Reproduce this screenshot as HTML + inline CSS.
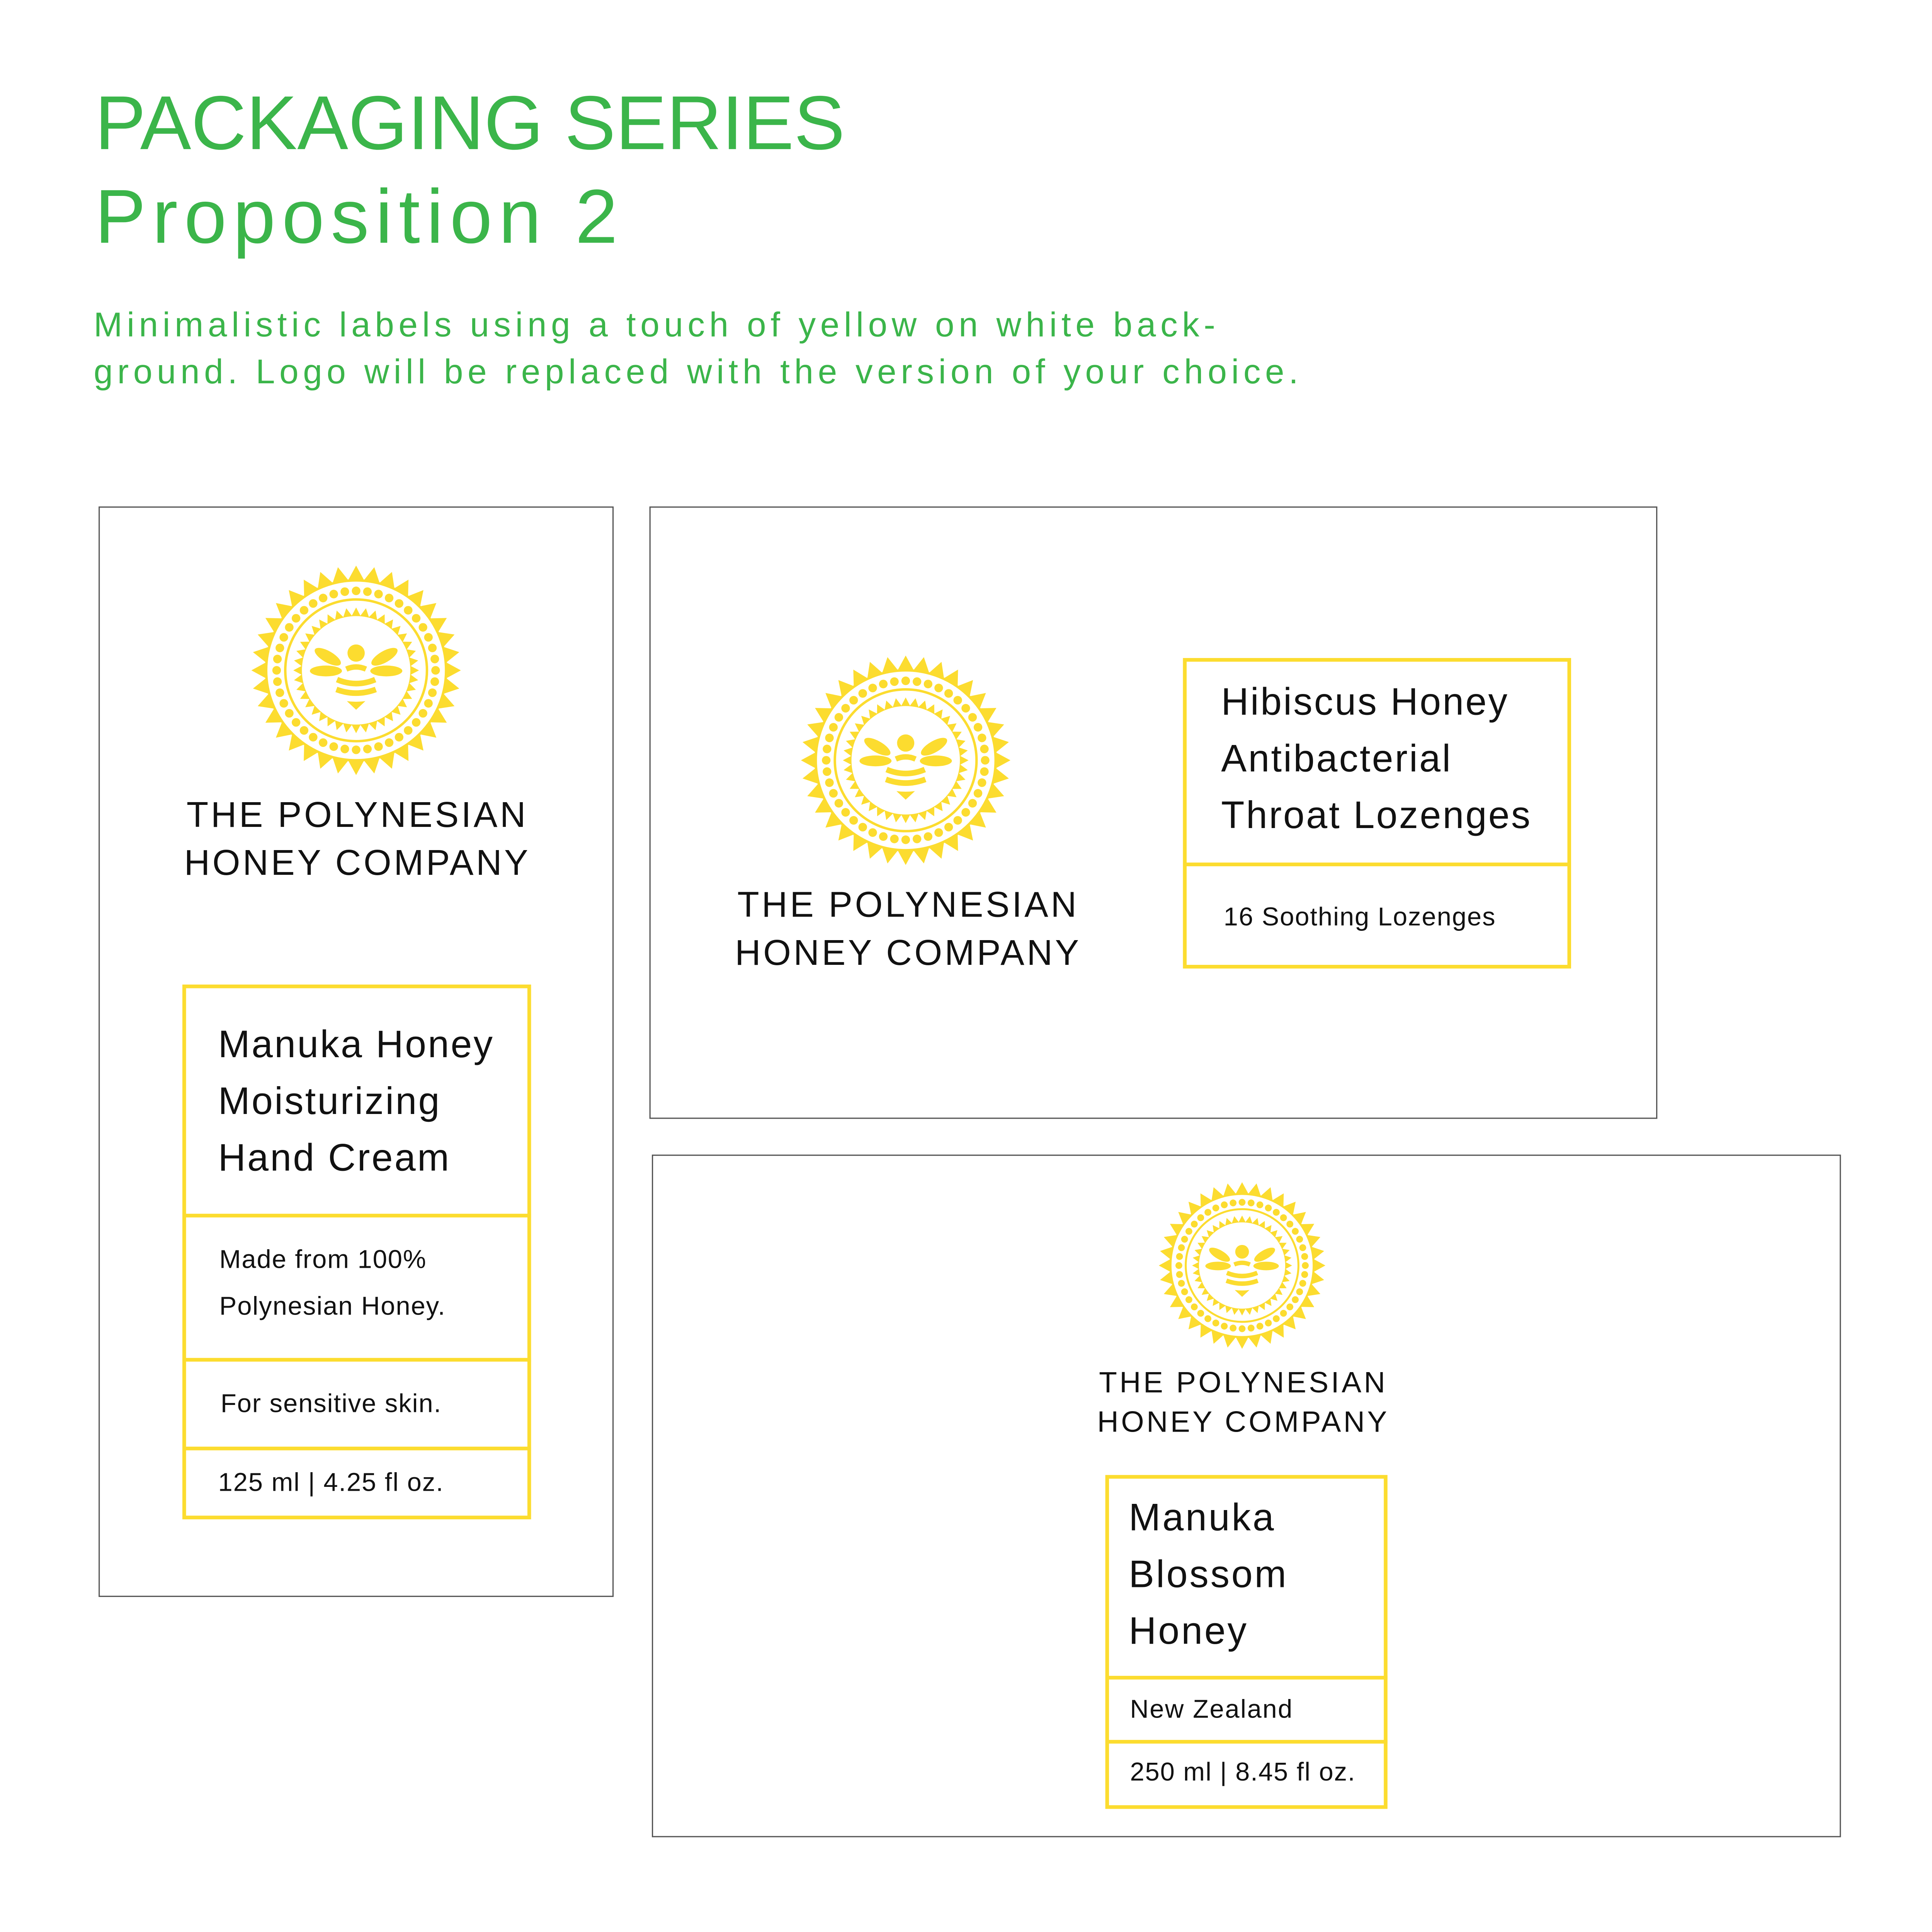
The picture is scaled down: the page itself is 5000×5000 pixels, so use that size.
<!DOCTYPE html>
<html><head><meta charset="utf-8">
<style>
html,body{margin:0;padding:0;background:#fff;}
body{width:5000px;height:5000px;overflow:hidden;position:relative;}
#w{position:absolute;left:0;top:0;width:1568px;height:1568px;transform:scale(3.189);transform-origin:0 0;font-family:"Liberation Sans",sans-serif;}
.a{position:absolute;white-space:nowrap;line-height:1;}
.g{color:#3bb54a;}
.k{color:#111;}
.box{position:absolute;border:1px solid #555;box-sizing:border-box;}
.yb{position:absolute;border:3px solid #fcdc2f;box-sizing:border-box;}
.hl{position:absolute;height:3px;background:#fcdc2f;}
.logo{position:absolute;}
.co{text-align:center;letter-spacing:2px;}
</style></head><body>
<div id="w">
<div class="a g" style="left:77px;top:70px;font-size:62px;letter-spacing:0px;">PACKAGING SERIES</div>
<div class="a g" style="left:77px;top:146px;font-size:62px;letter-spacing:5.2px;">Proposition 2</div>
<div class="a g" style="left:76px;top:250px;font-size:28px;letter-spacing:3.6px;">Minimalistic labels using a touch of yellow on white back-</div>
<div class="a g" style="left:76px;top:288px;font-size:28px;letter-spacing:3.6px;">ground. Logo will be replaced with the version of your choice.</div>

<div class="box" style="left:80px;top:411px;width:418px;height:885px;"></div>
<div class="box" style="left:527px;top:411px;width:818px;height:497px;"></div>
<div class="box" style="left:529px;top:937px;width:965px;height:554px;"></div>

<svg class="logo" id="l1" style="left:201px;top:456px;" width="176" height="176" viewBox="-88 -88 176 176"></svg>
<svg class="logo" id="l2" style="left:647px;top:529px;" width="176" height="176" viewBox="-88 -88 176 176"></svg>
<svg class="logo" id="l3" style="left:938px;top:957px;" width="140" height="140" viewBox="-88 -88 176 176"></svg>

<div class="a k co" style="left:90px;width:400px;top:648px;font-size:29px;">THE POLYNESIAN</div>
<div class="a k co" style="left:90px;width:400px;top:687px;font-size:29px;">HONEY COMPANY</div>
<div class="a k co" style="left:537px;width:400px;top:721px;font-size:29px;">THE POLYNESIAN</div>
<div class="a k co" style="left:537px;width:400px;top:760px;font-size:29px;">HONEY COMPANY</div>
<div class="a k co" style="left:859px;width:300px;top:1111px;font-size:24px;">THE POLYNESIAN</div>
<div class="a k co" style="left:859px;width:300px;top:1143px;font-size:24px;">HONEY COMPANY</div>

<div class="yb" style="left:148px;top:799px;width:283px;height:434px;"></div>
<div class="hl" style="left:148px;top:985px;width:283px;"></div>
<div class="hl" style="left:148px;top:1102px;width:283px;"></div>
<div class="hl" style="left:148px;top:1174px;width:283px;"></div>
<div class="a k" style="left:177px;top:832px;font-size:31px;letter-spacing:1.3px;">Manuka Honey</div>
<div class="a k" style="left:177px;top:878px;font-size:31px;letter-spacing:1.3px;">Moisturizing</div>
<div class="a k" style="left:177px;top:924px;font-size:31px;letter-spacing:1.3px;">Hand Cream</div>
<div class="a k" style="left:178px;top:1012px;font-size:21px;letter-spacing:0.6px;">Made from 100%</div>
<div class="a k" style="left:178px;top:1050px;font-size:21px;letter-spacing:0.6px;">Polynesian Honey.</div>
<div class="a k" style="left:179px;top:1129px;font-size:21px;letter-spacing:0.6px;">For sensitive skin.</div>
<div class="a k" style="left:177px;top:1193px;font-size:21px;letter-spacing:0.6px;">125 ml | 4.25 fl oz.</div>

<div class="yb" style="left:960px;top:534px;width:315px;height:252px;"></div>
<div class="hl" style="left:960px;top:700px;width:315px;"></div>
<div class="a k" style="left:991px;top:554px;font-size:31px;letter-spacing:1.3px;">Hibiscus Honey</div>
<div class="a k" style="left:991px;top:600px;font-size:31px;letter-spacing:1.3px;">Antibacterial</div>
<div class="a k" style="left:991px;top:646px;font-size:31px;letter-spacing:1.3px;">Throat Lozenges</div>
<div class="a k" style="left:993px;top:734px;font-size:21px;letter-spacing:0.6px;">16 Soothing Lozenges</div>

<div class="yb" style="left:897px;top:1197px;width:229px;height:271px;"></div>
<div class="hl" style="left:897px;top:1360px;width:229px;"></div>
<div class="hl" style="left:897px;top:1412px;width:229px;"></div>
<div class="a k" style="left:916px;top:1216px;font-size:31px;letter-spacing:1.5px;">Manuka</div>
<div class="a k" style="left:916px;top:1262px;font-size:31px;letter-spacing:1.5px;">Blossom</div>
<div class="a k" style="left:916px;top:1308px;font-size:31px;letter-spacing:1.5px;">Honey</div>
<div class="a k" style="left:917px;top:1377px;font-size:21px;letter-spacing:0.8px;">New Zealand</div>
<div class="a k" style="left:917px;top:1428px;font-size:21px;letter-spacing:0.6px;">250 ml | 8.45 fl oz.</div>
</div>
<script>
(function(){
var Y="#fcdc2f",s="";
function p(r,a){return (r*Math.sin(a)).toFixed(2)+","+(-r*Math.cos(a)).toFixed(2);}
var n=36,i,a,d;
for(i=0;i<n;i++){a=i*2*Math.PI/n;d=Math.PI/n;
 s+='<polygon fill="'+Y+'" points="'+p(85,a)+' '+p(74,a-d*0.95)+' '+p(74,a+d*0.95)+'"/>';}
s+='<circle r="73" fill="none" stroke="'+Y+'" stroke-width="2"/>';
var m=44;
for(i=0;i<m;i++){a=i*2*Math.PI/m;s+='<circle cx="'+(64.5*Math.sin(a)).toFixed(2)+'" cy="'+(-64.5*Math.cos(a)).toFixed(2)+'" r="3.5" fill="'+Y+'"/>';}
s+='<circle r="57.5" fill="none" stroke="'+Y+'" stroke-width="2"/>';
var k=40,pts=[];
for(i=0;i<k;i++){a=i*2*Math.PI/k;d=Math.PI/k;pts.push(p(51,a));pts.push(p(44.5,a+d));}
s+='<path fill-rule="evenodd" fill="'+Y+'" d="M'+pts.join(' L')+' Z M44,0 A44,44 0 1,0 -44,0 A44,44 0 1,0 44,0 Z"/>';
s+='<circle cy="-14" r="7" fill="'+Y+'"/>';
s+='<ellipse cx="-23" cy="-11" rx="12" ry="4.6" transform="rotate(30 -23 -11)" fill="'+Y+'"/>';
s+='<ellipse cx="23" cy="-11" rx="12" ry="4.6" transform="rotate(-30 23 -11)" fill="'+Y+'"/>';
s+='<ellipse cx="-24.5" cy="0.5" rx="13" ry="4.4" fill="'+Y+'"/>';
s+='<ellipse cx="24.5" cy="0.5" rx="13" ry="4.4" fill="'+Y+'"/>';
s+='<path d="M-8,-1 Q0,-4.5 8,-1" stroke="'+Y+'" stroke-width="4.4" fill="none"/>';
s+='<path d="M-15.5,7.5 Q0,14 15.5,7.5" stroke="'+Y+'" stroke-width="4.6" fill="none"/>';
s+='<path d="M-16,15.5 Q0,21.5 16,15.5" stroke="'+Y+'" stroke-width="4.6" fill="none"/>';
s+='<path d="M-7.5,25 Q0,26 7.5,25 L0,32 Z" fill="'+Y+'"/>';
["l1","l2","l3"].forEach(function(id){document.getElementById(id).innerHTML=s;});
})();
</script>
</body></html>
